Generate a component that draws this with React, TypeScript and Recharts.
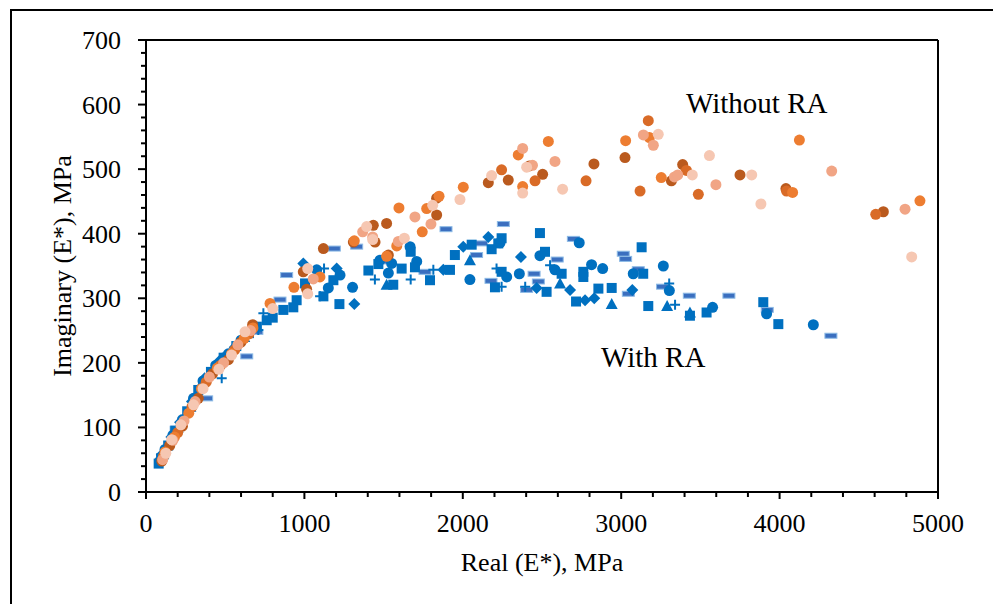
import { ScatterChart, Scatter, XAxis, YAxis, ReferenceLine } from 'recharts';

type Pt = [number, number];

// "Without RA" series (orange shades)
const withoutDark: Pt[] = [
  [100, 48], [150, 72], [230, 102], [330, 145], [420, 183], [520, 205], [600, 232], [673, 259],
  [993, 341], [1014, 314], [1120, 377], [1309, 387], [1435, 413], [1446, 387], [1519, 416],
  [1530, 367], [1835, 429], [1835, 455], [2161, 479], [2287, 483], [2420, 505], [2504, 492],
  [2828, 508], [3024, 518], [3317, 482], [3388, 507], [3750, 491], [4040, 470], [4655, 434],
];
const withoutMid: Pt[] = [
  [110, 55], [200, 92], [290, 132], [380, 170], [470, 196], [560, 220], [650, 245],
  [2245, 499], [2456, 482], [2778, 482], [3119, 466], [3171, 575], [3412, 498], [3487, 461],
  [4044, 466], [4607, 430],
];
const withoutOrange: Pt[] = [
  [120, 62], [180, 85], [270, 122], [350, 160], [450, 192], [540, 214], [620, 238], [675, 254],
  [783, 292], [934, 317], [1098, 333], [1315, 389], [1519, 365], [1583, 381], [1597, 440],
  [1744, 403], [1772, 439], [1850, 458], [2003, 472], [2350, 522], [2378, 473], [2540, 543],
  [3028, 544], [3178, 549], [3253, 487], [4082, 464], [4125, 545], [4886, 451],
];
const withoutSalmon: Pt[] = [
  [105, 50], [170, 80], [240, 110], [310, 140], [400, 178], [490, 200], [580, 228], [660, 250],
  [1056, 330], [1368, 403], [1431, 395], [1593, 388], [1698, 426], [1799, 415], [2378, 532],
  [2440, 506], [2582, 512], [3140, 553], [3203, 537], [3336, 488], [3357, 491], [3598, 476],
  [4329, 497], [4792, 438],
];
const withoutPale: Pt[] = [
  [125, 60], [162, 81], [220, 104], [300, 135], [360, 160], [460, 190], [540, 212], [625, 248],
  [800, 284], [1021, 307], [1021, 346], [1393, 411], [1431, 391], [1631, 393], [1810, 444],
  [1982, 453], [2182, 490], [2378, 463], [2403, 503], [2630, 469], [3234, 554], [3449, 491],
  [3557, 521], [3824, 491], [3882, 446], [4834, 364],
];

// "With RA" series (blue, different markers)
const withSquare: Pt[] = [
  [80, 44], [95, 52], [140, 72], [185, 95], [260, 125], [330, 158], [410, 186], [490, 208],
  [570, 226], [650, 246], [700, 256], [762, 266], [800, 270], [867, 282], [930, 286], [951, 297],
  [1004, 323], [1120, 303], [1183, 328], [1221, 291], [1404, 343], [1467, 353], [1561, 321],
  [1614, 346], [1671, 372], [1698, 348], [1793, 328], [1919, 344], [1950, 367], [2056, 383],
  [2182, 376], [2224, 385], [2245, 393], [2203, 317], [2245, 341], [2487, 401], [2519, 372],
  [2529, 310], [2624, 338], [2715, 295], [2761, 341], [2761, 333], [2856, 315], [2940, 316],
  [3129, 379], [3139, 338], [3171, 288], [3434, 273], [3539, 278], [3897, 294], [3992, 260],
];
const withCircle: Pt[] = [
  [88, 48], [120, 66], [170, 88], [230, 112], [300, 145], [360, 172], [440, 196], [520, 214],
  [600, 235], [690, 256], [1078, 344], [1151, 316], [1225, 336], [1304, 317], [1477, 359],
  [1530, 339], [1551, 354], [1667, 380], [1709, 357], [2045, 329], [2235, 386], [2277, 333],
  [2357, 338], [2487, 366], [2582, 344], [2735, 386], [2813, 352], [2883, 346], [3076, 338],
  [3266, 350], [3304, 312], [3577, 286], [3918, 276], [4213, 259],
];
const withDiamond: Pt[] = [
  [100, 58], [160, 85], [215, 108], [290, 140], [370, 176], [460, 202], [560, 224], [993, 354],
  [1204, 346], [1315, 291], [1877, 344], [2003, 380], [2161, 395], [2367, 364], [2466, 316],
  [2677, 313], [2772, 297], [2830, 300], [3070, 313],
];
const withTriangle: Pt[] = [
  [115, 64], [200, 100], [280, 132], [350, 168], [430, 192], [620, 240], [1519, 321],
  [2045, 359], [2614, 323], [2940, 291], [3290, 288], [3434, 278],
];
const withDash: Pt[] = [
  [105, 55], [190, 98], [383, 145], [520, 212], [636, 210], [700, 248], [846, 298], [888, 336],
  [1189, 377], [1330, 380], [1519, 357], [1761, 341], [1894, 407], [2087, 367], [2119, 385],
  [2256, 415], [2178, 327], [2403, 313], [2450, 338], [2477, 326], [2596, 360], [2698, 392],
  [3013, 369], [3028, 361], [3045, 307], [3108, 345], [3261, 318], [3430, 304], [3680, 304],
  [3922, 282], [4324, 242],
];
const withPlus: Pt[] = [
  [130, 70], [245, 118], [320, 150], [478, 176], [709, 251], [741, 277], [1099, 303],
  [1124, 346], [1445, 329], [1671, 329], [1814, 344], [2213, 346], [2245, 318], [2394, 318],
  [2551, 351], [3303, 323], [3340, 290],
];

const xMajor = [0, 1000, 2000, 3000, 4000, 5000];
const yMajor = [0, 100, 200, 300, 400, 500, 600, 700];
const xTicks = Array.from({ length: 26 }, (_, i) => i * 200);
const yTicks = Array.from({ length: 36 }, (_, i) => i * 20);

const FONT = "'Liberation Serif', 'Times New Roman', serif";
const BLUE = '#0070C0';

const toPts = (a: Pt[]) => a.map(([x, y]) => ({ x, y }));

function YTick({ x, y, payload }: any) {
  const major = yMajor.includes(payload.value);
  return (
    <g>
      <line x1={x - (major ? 8 : 5)} x2={x} y1={y} y2={y} stroke="#000" strokeWidth={2} />
      {major && (
        <text x={x - 25} y={y + 9} textAnchor="end" fontSize={26} fontFamily={FONT} fill="#000">
          {payload.value}
        </text>
      )}
    </g>
  );
}

function XTick({ x, y, payload }: any) {
  const major = xMajor.includes(payload.value);
  return (
    <g>
      <line x1={x} x2={x} y1={y} y2={y + (major ? 7 : 5)} stroke="#000" strokeWidth={2} />
      {major && (
        <text x={x} y={y + 40} textAnchor="middle" fontSize={26} fontFamily={FONT} fill="#000">
          {payload.value}
        </text>
      )}
    </g>
  );
}

const dot = (fill: string) => (p: any) => <circle cx={p.cx} cy={p.cy} r={5.5} fill={fill} />;
const square = (p: any) => <rect x={p.cx - 5} y={p.cy - 5} width={10} height={10} fill={BLUE} />;
const diamond = (p: any) => (
  <path d={`M${p.cx},${p.cy - 6}L${p.cx + 6},${p.cy}L${p.cx},${p.cy + 6}L${p.cx - 6},${p.cy}Z`} fill={BLUE} />
);
const triangle = (p: any) => (
  <path d={`M${p.cx},${p.cy - 6}L${p.cx + 6},${p.cy + 5}L${p.cx - 6},${p.cy + 5}Z`} fill={BLUE} />
);
const dash = (p: any) => (
  <rect x={p.cx - 6} y={p.cy - 2.5} width={12} height={5} fill="#3B6FBF" stroke="#8DBBE6" strokeWidth={1} />
);
const plus = (p: any) => (
  <path d={`M${p.cx - 5},${p.cy}H${p.cx + 5}M${p.cx},${p.cy - 5}V${p.cy + 5}`} stroke={BLUE} strokeWidth={2} />
);

export default function App() {
  return (
    <div style={{ position: 'absolute', left: 0, top: 0, width: 993, height: 604, overflow: 'hidden', background: '#fff' }}>
      <ScatterChart width={993} height={604} margin={{ top: 40, right: 55, bottom: 0, left: 0 }}>
        <XAxis
          type="number"
          dataKey="x"
          domain={[0, 5000]}
          ticks={xTicks}
          interval={0}
          height={112}
          tickSize={0}
          tickMargin={0}
          tickLine={false}
          axisLine={{ stroke: '#000', strokeWidth: 2 }}
          tick={<XTick />}
        />
        <YAxis
          type="number"
          dataKey="y"
          domain={[0, 700]}
          ticks={yTicks}
          interval={0}
          width={146}
          tickSize={0}
          tickMargin={0}
          tickLine={false}
          axisLine={{ stroke: '#000', strokeWidth: 2 }}
          tick={<YTick />}
        />
        <ReferenceLine y={700} stroke="#000" strokeWidth={2} />
        <ReferenceLine x={5000} stroke="#000" strokeWidth={2} />
        <Scatter data={toPts(withDash)} shape={dash} isAnimationActive={false} />
        <Scatter data={toPts(withPlus)} shape={plus} isAnimationActive={false} />
        <Scatter data={toPts(withTriangle)} shape={triangle} isAnimationActive={false} />
        <Scatter data={toPts(withDiamond)} shape={diamond} isAnimationActive={false} />
        <Scatter data={toPts(withCircle)} shape={dot(BLUE)} isAnimationActive={false} />
        <Scatter data={toPts(withSquare)} shape={square} isAnimationActive={false} />
        <Scatter data={toPts(withoutDark)} shape={dot('#BA5A1E')} isAnimationActive={false} />
        <Scatter data={toPts(withoutMid)} shape={dot('#D96B27')} isAnimationActive={false} />
        <Scatter data={toPts(withoutOrange)} shape={dot('#ED7D31')} isAnimationActive={false} />
        <Scatter data={toPts(withoutSalmon)} shape={dot('#F1A585')} isAnimationActive={false} />
        <Scatter data={toPts(withoutPale)} shape={dot('#F6C7B2')} isAnimationActive={false} />
      </ScatterChart>
      <svg width={993} height={604} style={{ position: 'absolute', left: 0, top: 0, pointerEvents: 'none' }}>
        <rect x={11} y={10} width={1100} height={800} fill="none" stroke="#000" strokeWidth={2} />
        <text x={542} y={571} textAnchor="middle" fontSize={26} fontFamily={FONT} fill="#000">
          Real (E*), MPa
        </text>
        <text x={71} y={266} textAnchor="middle" fontSize={26} fontFamily={FONT} fill="#000" transform="rotate(-90, 71, 266)">
          Imaginary (E*), MPa
        </text>
        <text x={686} y={113} fontSize={29} fontFamily={FONT} fill="#000">Without RA</text>
        <text x={601} y={367} fontSize={29} fontFamily={FONT} fill="#000">With RA</text>
      </svg>
    </div>
  );
}
